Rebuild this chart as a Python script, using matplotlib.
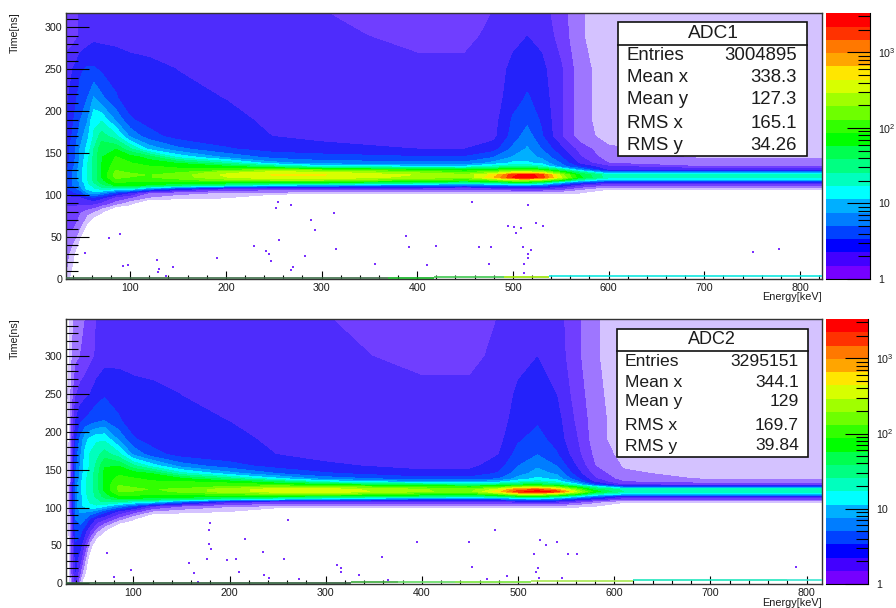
import matplotlib
matplotlib.use("Agg")
import matplotlib.pyplot as plt
from matplotlib.colors import ListedColormap, BoundaryNorm
from matplotlib.patches import Rectangle
from matplotlib.ticker import MultipleLocator, FixedLocator, FixedFormatter, NullFormatter

plt.rcParams['font.family'] = ['Liberation Sans', 'DejaVu Sans']
plt.rcParams['mathtext.fontset'] = 'custom'
plt.rcParams['mathtext.rm'] = 'Liberation Sans'
plt.rcParams['mathtext.default'] = 'regular'

W, H = 896, 608
TXT = '#1c1c1c'

# Rainbow palette bands, bottom to top (values are log10 of counts per bin)
band_rgb = [(118,0,255),(66,0,255),(0,0,255),(0,66,255),(0,125,255),(0,175,255),(0,255,255),
            (0,255,190),(0,255,130),(0,255,80),(0,255,0),(50,255,0),(110,255,0),(160,255,0),
            (215,255,0),(255,230,0),(255,165,0),(255,120,0),(255,50,0),(255,0,0)]
band_edges = [0.0,0.176,0.352,0.528,0.704,0.880,1.056,1.232,1.408,1.584,1.760,1.936,2.112,
              2.288,2.464,2.640,2.816,2.992,3.168,3.344,3.523]
# In the maps the lowest bands are speckled with empty bins, so their shade is paler
map_low_rgb = [(112,62,255),(78,44,252),(36,34,250),(10,70,255)]
# sparse-occupancy shades below one count per bin
sparse_rgb = [(212,194,255),(158,118,255)]
sparse_edges = [-0.45,-0.18]

# ------- ADC1 -------
energy1 = [33,40,48,55,62,70,85,100,120,150,200,250,300,400,450,480,500,515,530,550,570,600,700,823]
time1 = [0,30,60,80,90,97,103,108,112,115,118,121,124,127,130,134,138,145,155,170,190,215,250,290,317]
counts1 = [
[-.2,-.7,-1,-1,-1,-1,-1,-1,-1,-1,-1,-1,-1,-1,-1,-1,-1,-1,-1,-1,-1,-1,-1,-1],
[-.1,-.3,-1,-1,-1,-1,-1,-1,-1,-1,-1,-1,-1,-1,-1,-1,-1,-1,-1,-1,-1,-1,-1,-1],
[.0,.0,-.2,-.6,-1,-1,-1,-1,-1,-1,-1,-1,-1,-1,-1,-1,-1,-1,-1,-1,-1,-1,-1,-1],
[.1,.1,.0,-.1,-.2,-.4,-1,-1,-1,-1,-1,-1,-1,-1,-1,-1,-1,-1,-1,-1,-1,-1,-1,-1],
[.2,.2,.2,.2,.2,.1,-.1,-.35,-1,-1,-1,-1,-1,-1,-1,-1,-1,-1,-1,-1,-1,-1,-1,-1],
[.3,.3,.3,.4,.5,.4,.1,-.0,-.2,-.3,-.42,-1,-1,-1,-1,-1,-1,-1,-1,-1,-1,-1,-1,-1],
[.4,.5,.6,.9,1.0,.9,.6,.35,.0,-.1,-.2,-.2,-.3,-.3,-.3,-.3,-.3,-.3,-.3,-.3,-.4,-1,-1,-1],
[.5,.6,.8,1.1,1.2,1.35,1.3,1.3,.9,.55,.2,.1,.1,.1,.1,.1,.2,.2,.2,.1,-.1,-.3,-.3,-.3],
[.5,.7,.9,1.15,1.3,1.5,1.8,1.8,1.75,1.6,1.4,1.1,1.0,.8,.7,.8,.9,.9,.8,.5,.2,.0,.0,.0],
[.5,.7,.9,1.2,1.4,1.65,1.95,1.9,1.9,1.85,1.85,1.8,1.75,1.55,1.45,1.5,1.65,1.65,1.5,1.0,.6,.3,.3,.3],
[.5,.7,1.0,1.2,1.45,1.7,2.05,2.0,2.0,2.05,2.2,2.3,2.3,2.05,1.95,2.15,2.45,2.45,2.3,1.9,1.3,.9,.9,.9],
[.5,.7,1.0,1.2,1.45,1.75,2.15,2.1,2.1,2.2,2.45,2.6,2.6,2.4,2.3,2.8,3.35,3.45,3.3,2.5,1.8,1.3,1.3,1.3],
[.5,.7,1.0,1.2,1.45,1.75,2.2,2.15,2.1,2.2,2.5,2.65,2.65,2.45,2.35,2.7,3.3,3.45,3.25,2.4,1.75,1.3,1.3,1.3],
[.5,.7,1.0,1.2,1.45,1.75,2.15,2.1,2.05,2.1,2.4,2.55,2.5,2.25,2.1,2.3,2.6,2.6,2.5,2.0,1.5,.8,.8,.8],
[.5,.7,1.0,1.2,1.45,1.75,2.1,2.05,2.0,1.98,2.05,2.2,2.1,1.9,1.8,1.9,2.0,2.0,1.9,1.5,.9,.3,.3,.3],
[.45,.65,.95,1.2,1.45,1.75,2.05,2.0,1.95,1.9,1.8,1.5,1.2,1.1,1.1,1.3,1.4,1.4,1.3,.8,.5,.2,.0,.0],
[.45,.65,.95,1.2,1.45,1.75,2.0,1.95,1.85,1.75,1.4,.95,.8,.75,.75,.95,1.1,1.1,1.0,.7,.3,.0,-.1,-.1],
[.45,.6,.9,1.15,1.45,1.75,1.95,1.85,1.7,1.2,.85,.65,.6,.55,.55,.7,.9,.95,.85,.55,.2,-.1,-.2,-.2],
[.45,.6,.9,1.1,1.4,1.7,1.75,1.45,1.0,.75,.55,.45,.42,.35,.35,.45,.75,.9,.7,.4,.1,-.15,-.25,-.25],
[.4,.55,.8,1.0,1.25,1.5,1.3,.85,.6,.45,.4,.35,.3,.22,.22,.3,.6,.8,.55,.2,-.1,-.25,-.3,-.3],
[.35,.5,.7,.85,1.2,1.2,.85,.55,.45,.42,.38,.33,.28,.2,.2,.28,.55,.65,.5,.2,-.1,-.3,-.3,-.3],
[.3,.45,.6,.7,.9,.75,.55,.42,.4,.38,.35,.32,.27,.2,.2,.26,.45,.55,.45,.2,-.1,-.3,-.3,-.3],
[.25,.35,.5,.55,.55,.5,.45,.4,.38,.35,.32,.3,.25,.2,.2,.25,.4,.45,.4,.2,-.1,-.3,-.3,-.3],
[.1,.1,.2,.25,.3,.3,.3,.3,.3,.3,.28,.25,.2,.15,.15,.2,.3,.35,.3,.1,-.15,-.35,-.35,-.35],
[.05,.1,.2,.25,.28,.28,.28,.28,.28,.28,.25,.22,.18,.12,.12,.18,.25,.3,.25,.08,-.15,-.35,-.35,-.35],
]
out1_e = [52.8,78.2,89.4,92.2,98.1,128.3,130.1,129,137,144.3,191.3,229.2,242.5,244.9,247,255,252.9,268.6,255.7,270.3,268.6,
          288.8,293.7,312.8,314.9,282.5,355.6,388,391.4,410.6,419.3,457.5,464.2,477.4,474.6,494.4,501.4,508.3,503.5,515.6,
          524.3,531.3,510.4,519.1,515.6,515.3,511.1,511.1,750.5,778.3]
out1_t = [30.8,48.3,53.9,14.9,16.9,22.9,12.1,8.2,3.8,14.1,24.9,38.8,33.2,30,20.9,92,84.9,87.7,45.9,14.1,10.9,
          69.8,57.9,78.5,35.2,27.6,17.7,51.1,38.4,16.9,39.6,91.6,37.6,37.6,17.7,63.4,61.8,60.6,54.7,88.5,
          66.6,62.6,38,34.8,30,25.2,17.7,7,32,36]
base1_start = [33,369,418,491,538]
base1_stop = [369,418,491,538,823]
base1_level = [1.0,1.2,1.8,2.8,3.8]
base1_color = ['#3f6f4a','#10b020','#40c850','#9ae600','#10e8e0']
stats1 = [('Entries','3004895'),('Mean x','338.3'),('Mean y','127.3'),('RMS x','165.1'),('RMS y','34.26')]

# ------- ADC2 -------
energy2 = [30,36,40,45,50,55,62,70,85,100,120,150,200,250,300,400,450,480,500,520,540,560,580,610,700,816]
time2 = [0,15,30,50,70,85,95,102,108,112,115,118,121,124,127,130,134,138,145,155,170,190,215,250,300,349]
counts2 = [
[-1,-.1,.2,-.3,-1,-1,-1,-1,-1,-1,-1,-1,-1,-1,-1,-1,-1,-1,-1,-1,-1,-1,-1,-1,-1,-1],
[-1,.0,.35,.0,-.4,-1,-1,-1,-1,-1,-1,-1,-1,-1,-1,-1,-1,-1,-1,-1,-1,-1,-1,-1,-1,-1],
[-1,.0,.4,.2,-.2,-.7,-1,-1,-1,-1,-1,-1,-1,-1,-1,-1,-1,-1,-1,-1,-1,-1,-1,-1,-1,-1],
[-1,.0,.5,.4,.1,-.3,-.8,-1,-1,-1,-1,-1,-1,-1,-1,-1,-1,-1,-1,-1,-1,-1,-1,-1,-1,-1],
[-1,.1,.6,.6,.4,.2,-.1,-.4,-1,-1,-1,-1,-1,-1,-1,-1,-1,-1,-1,-1,-1,-1,-1,-1,-1,-1],
[-1,.1,.7,.8,.7,.5,.3,.2,-.1,-.4,-1,-1,-1,-1,-1,-1,-1,-1,-1,-1,-1,-1,-1,-1,-1,-1],
[-1,.2,.8,.9,.9,.9,.8,.6,.3,.1,-.2,-.3,-.44,-1,-1,-1,-1,-1,-1,-1,-1,-1,-1,-1,-1,-1],
[-1,.2,.8,1.0,1.1,1.2,1.2,1.1,.85,.6,.2,.0,-.15,-.2,-.2,-.25,-.25,-.25,-.25,-.25,-.25,-.3,-.42,-1,-1,-1],
[-1,.2,.8,1.0,1.15,1.25,1.35,1.45,1.4,1.3,1.2,.8,.3,.15,.15,.15,.15,.2,.25,.3,.25,.1,-.1,-.3,-.3,-.3],
[-1,.2,.8,1.0,1.15,1.3,1.4,1.55,1.75,1.75,1.7,1.65,1.5,1.3,1.1,.8,.75,.8,1.0,1.05,.9,.6,.4,.1,.1,.1],
[-1,.2,.8,1.0,1.15,1.3,1.45,1.65,1.9,1.9,1.88,1.85,1.8,1.75,1.7,1.55,1.45,1.55,1.75,1.85,1.6,1.2,.8,.35,.35,.35],
[-1,.2,.8,1.0,1.2,1.3,1.45,1.7,2.0,2.0,1.95,2.0,2.1,2.2,2.25,1.95,1.9,2.15,2.5,2.55,2.35,1.95,1.35,1.05,1.05,1.05],
[-1,.2,.8,1.0,1.2,1.3,1.5,1.75,2.1,2.1,2.05,2.15,2.4,2.55,2.6,2.3,2.25,2.75,3.3,3.45,3.3,2.5,1.85,1.4,1.4,1.4],
[-1,.2,.8,1.0,1.2,1.3,1.5,1.8,2.15,2.15,2.1,2.15,2.4,2.55,2.55,2.3,2.2,2.55,3.05,3.15,2.85,2.2,1.65,1.35,1.35,1.35],
[-1,.2,.8,1.0,1.2,1.3,1.5,1.8,2.15,2.1,2.05,2.05,2.15,2.3,2.25,2.0,1.95,2.05,2.3,2.35,2.2,1.8,1.3,.7,.7,.7],
[-1,.2,.8,1.0,1.2,1.3,1.5,1.8,2.1,2.05,2.0,1.98,2.05,1.95,1.8,1.6,1.5,1.55,1.7,1.75,1.6,1.2,.6,.15,.1,.1],
[-1,.15,.75,1.0,1.2,1.3,1.5,1.8,2.05,1.98,1.95,1.95,1.85,1.6,1.2,.9,.9,1.0,1.2,1.3,1.2,.8,.3,.0,-.1,-.1],
[-1,.15,.7,.95,1.2,1.3,1.5,1.8,2.0,1.95,1.9,1.8,1.5,1.1,.8,.6,.6,.7,.95,1.1,1.0,.6,.2,-.1,-.2,-.2],
[-1,.15,.7,.95,1.15,1.3,1.5,1.8,1.9,1.85,1.75,1.3,.95,.7,.55,.4,.42,.55,.8,.95,.85,.45,.1,-.15,-.25,-.25],
[-1,.1,.65,.9,1.15,1.25,1.45,1.75,1.75,1.45,1.15,.8,.6,.45,.38,.3,.3,.45,.7,.85,.7,.35,.0,-.2,-.3,-.3],
[-1,.1,.6,.85,1.1,1.25,1.35,1.5,1.3,.85,.6,.45,.4,.35,.3,.25,.25,.35,.6,.7,.55,.25,-.05,-.25,-.3,-.3],
[-1,.05,.5,.75,1.0,1.1,1.2,1.2,.85,.55,.45,.42,.38,.33,.28,.22,.22,.3,.5,.6,.45,.2,-.1,-.3,-.3,-.3],
[-1,.0,.35,.5,.55,.6,.65,.7,.55,.42,.4,.38,.35,.32,.27,.2,.2,.28,.42,.5,.42,.15,-.1,-.3,-.3,-.3],
[-.6,-.1,.15,.25,.3,.35,.45,.5,.45,.4,.38,.35,.32,.3,.25,.2,.2,.25,.38,.42,.35,.1,-.12,-.32,-.32,-.32],
[-.8,-.2,-.05,.0,.05,.12,.2,.28,.3,.3,.3,.28,.26,.24,.2,.15,.15,.2,.3,.35,.28,.05,-.15,-.35,-.35,-.35],
[-.8,-.25,-.1,-.05,.0,.1,.18,.25,.28,.28,.28,.26,.24,.22,.18,.12,.12,.18,.25,.3,.25,.05,-.15,-.35,-.35,-.35],
]
out2_e = [73,97.7,80,180,178.3,178.3,181,176.9,197.4,206.7,216.5,234.9,260.6,257,158,163,167,209.9,235.6,241,272,
          476.4,394.5,449.3,523,540.7,529.2,516.7,551.8,561.1,358.4,312.2,316,316,335.1,452.1,520.5,519.1,488.2,522,545.5,365,467.4,788.9]
out2_t = [39.6,17.6,8.8,80,70.4,51.5,45.8,31.7,30.8,31.7,58.5,41.8,83.6,32.6,26.4,13.2,1,14.5,11,6.6,5.3,
          70.4,54,54.6,57.6,54.6,50.6,38.7,38.7,38.7,35.2,24.2,20.7,15.4,11,21.6,20.7,14.5,9.7,6.6,6.6,4.4,5.3,21.6]
base2_start = [30,326,375,434,513,620,780]
base2_stop = [326,375,434,513,620,780,816]
base2_level = [0.8,1.0,1.4,1.8,2.9,3.8,4.9]
base2_color = ['#2f5f3a','#3caa3c','#64dc64','#78e63c','#a8e850','#20e6be','#3ce6d2']
stats2 = [('Entries','3295151'),('Mean x','344.1'),('Mean y','129'),('RMS x','169.7'),('RMS y','39.84')]

cbar_major = [1, 10, 100, 1000]
cbar_minor = [2,3,4,5,6,7,8,9,20,30,40,50,60,70,80,90,200,300,400,500,600,700,800,900,2000,3000]
cbar_labels = ['1','10',r'$10^{2}$',r'$10^{3}$']


def hexes(rgb_list):
    return ['#%02x%02x%02x' % c for c in rgb_list]


def px_axes(fig, x0, y0, x1, y1):
    return fig.add_axes([x0/W, 1-y1/H, (x1-x0)/W, (y1-y0)/H])


def panel(fig, box, xlim, ylim, energy, time, counts, oe, ot, bs, bt, bl, bc):
    ax = px_axes(fig, *box)
    levels = sparse_edges + band_edges
    colors = hexes(sparse_rgb + map_low_rgb + band_rgb[len(map_low_rgb):])
    ax.contourf(energy, time, counts, levels=levels, colors=colors, zorder=1)
    ax.scatter(oe, ot, s=2.2, marker='s', color='#7a30ff', linewidths=0, zorder=2)
    ax.hlines(bl, bs, bt, colors=bc, linewidth=1.2, zorder=6)
    ax.set_xlim(*xlim)
    ax.set_ylim(*ylim)
    ax.xaxis.set_major_locator(MultipleLocator(100))
    ax.xaxis.set_minor_locator(MultipleLocator(20))
    ax.yaxis.set_major_locator(MultipleLocator(50))
    ax.yaxis.set_minor_locator(MultipleLocator(10))
    ax.tick_params(axis='x', which='major', direction='in', length=5.8, width=0.8, pad=3.2,
                   labelsize=7.7, labelcolor=TXT, top=False)
    ax.tick_params(axis='x', which='minor', direction='in', length=2.9, width=0.8, top=False)
    ax.tick_params(axis='y', which='major', direction='in', length=16.6, width=0.8, pad=2.8,
                   labelsize=7.7, labelcolor=TXT, right=False)
    ax.tick_params(axis='y', which='minor', direction='in', length=8.6, width=0.8, right=False)
    for s in ax.spines.values():
        s.set_linewidth(1.0)
        s.set_color('#333333')
        s.set_zorder(5)
    return ax


def colorbar(fig, box):
    cax = px_axes(fig, *box)
    vals = [10**e for e in band_edges]
    cmap = ListedColormap(hexes(band_rgb))
    norm = BoundaryNorm(vals, cmap.N)
    mids = [[10**((band_edges[i]+band_edges[i+1])/2)] for i in range(20)]
    cax.pcolormesh([0, 1], vals, mids, cmap=cmap, norm=norm)
    cax.set_yscale('log')
    cax.set_ylim(vals[0], vals[-1])
    cax.set_xlim(0, 1)
    cax.set_xticks([])
    cax.yaxis.tick_right()
    cax.yaxis.set_major_locator(FixedLocator(cbar_major))
    cax.yaxis.set_major_formatter(FixedFormatter(cbar_labels))
    cax.yaxis.set_minor_locator(FixedLocator(cbar_minor))
    cax.yaxis.set_minor_formatter(NullFormatter())
    cax.tick_params(axis='y', which='major', direction='in', length=16.6, width=0.8, pad=6.0,
                    labelsize=7.7, labelcolor=TXT)
    cax.tick_params(axis='y', which='minor', direction='in', length=8.6, width=0.8)
    for k, s in cax.spines.items():
        s.set_visible(k in ('right', 'bottom'))
        s.set_linewidth(0.8)
    return cax


def stats_box(ov, x0, y0, x1, y1, ysep, title, tx, ty, rows, ys, xl, xr, fs):
    ov.add_patch(Rectangle((x0, y0), x1-x0, y1-y0, fc='white', ec='#111111', lw=1.2, zorder=6))
    ov.plot([x0, x1], [ysep, ysep], color='#111111', lw=1.2, zorder=7)
    ov.text(tx, ty, title, ha='center', va='center', fontsize=fs+0.4, color=TXT, zorder=8)
    for (name, val), y in zip(rows, ys):
        ov.text(xl, y, name, ha='left', va='center', fontsize=fs, color=TXT, zorder=8)
        ov.text(xr, y, val, ha='right', va='center', fontsize=fs, color=TXT, zorder=8)


fig = plt.figure(figsize=(W/100, H/100), dpi=100)
panel(fig, (66, 13, 822, 279), (33, 823), (0, 317), energy1, time1, counts1, out1_e, out1_t,
      base1_start, base1_stop, base1_level, base1_color)
panel(fig, (66, 319, 822, 584), (30, 816), (-1, 349), energy2, time2, counts2, out2_e, out2_t,
      base2_start, base2_stop, base2_level, base2_color)
colorbar(fig, (826, 13, 870, 279))
colorbar(fig, (826, 319, 868, 584))

ov = fig.add_axes([0, 0, 1, 1], zorder=10)
ov.set_xlim(0, W)
ov.set_ylim(H, 0)
ov.axis('off')
ov.patch.set_alpha(0)

stats_box(ov, 618, 22, 807, 156, 44.5, 'ADC1', 713, 34, stats1, [55, 78, 99, 123, 145], 627, 797, 13.4)
stats_box(ov, 617, 329, 808, 457, 351, 'ADC2', 711.5, 340, stats2, [361.5, 382.5, 401.5, 425, 446], 625, 799, 12.6)

ov.text(15, 12, 'Time[ns]', rotation=90, ha='center', va='top', fontsize=7.7, color=TXT)
ov.text(15, 318, 'Time[ns]', rotation=90, ha='center', va='top', fontsize=7.7, color=TXT)
ov.text(822, 297.5, 'Energy[keV]', ha='right', va='center', fontsize=7.8, color=TXT)
ov.text(822, 603.5, 'Energy[keV]', ha='right', va='center', fontsize=7.8, color=TXT)

fig.savefig('out.png', dpi=100)
